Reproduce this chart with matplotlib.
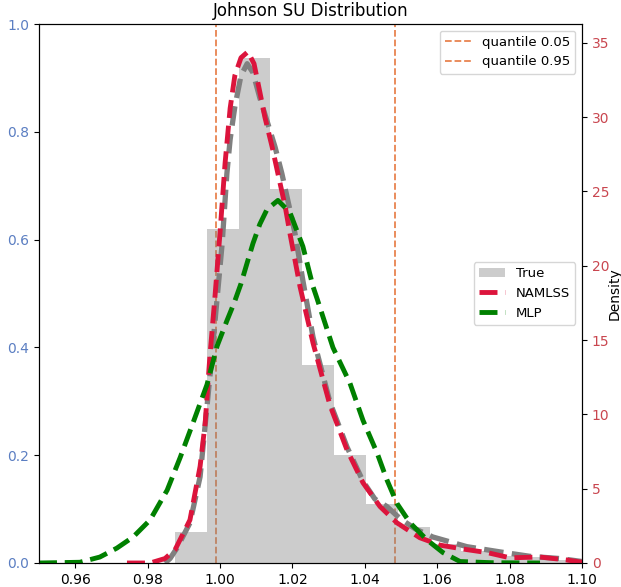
import matplotlib
matplotlib.use("Agg")
import matplotlib.pyplot as plt
import numpy as np

# Histogram of true samples (density)
bin_edges = [0.98757, 0.99636, 1.00515, 1.01394, 1.02273, 1.03152, 1.04031,
             1.04910, 1.05789, 1.06668, 1.07547, 1.08426, 1.09305, 1.10184]
bin_heights = [2.1, 22.5, 34.0, 25.2, 13.3, 7.27, 4.0, 2.4, 1.3, 0.8, 0.5, 0.4, 0.2]

# True density (gray dashed)
true_x = [0.9848, 0.9862, 0.9881, 0.9917, 0.9945, 0.9972, 0.9992, 1.0006, 1.0019,
          1.0028, 1.0041, 1.0058, 1.0075, 1.0091, 1.0110, 1.0133, 1.0152, 1.0171,
          1.0191, 1.0207, 1.0229, 1.0257, 1.0304, 1.0351, 1.0395, 1.0428, 1.0461,
          1.0497, 1.0539, 1.0588, 1.0682, 1.0773, 1.0856, 1.0939, 1.1000]
true_y = [0.0, 0.3, 1.0, 2.7, 5.8, 12.5, 17.8, 21.5, 26.2,
          28.5, 30.7, 32.8, 33.6, 33.0, 31.3, 29.5, 28.0, 26.2,
          24.0, 22.2, 19.0, 15.2, 10.8, 7.8, 5.5, 4.3, 3.8,
          3.0, 2.3, 1.75, 1.1, 0.75, 0.45, 0.3, 0.1]

# NAMLSS prediction (crimson dashed)
nam_x = [0.9743, 0.9807, 0.9848, 0.9876, 0.9917, 0.9945, 0.9959, 0.9972, 0.9986,
         1.0000, 1.0014, 1.0028, 1.0041, 1.0058, 1.0077, 1.0094, 1.0110, 1.0124,
         1.0144, 1.0160, 1.0180, 1.0193, 1.0221, 1.0257, 1.0304, 1.0351, 1.0395,
         1.0442, 1.0489, 1.0552, 1.0608, 1.0682, 1.0738, 1.0801, 1.0884, 1.0959, 1.1000]
nam_y = [0.0, 0.0, 0.3, 0.9, 2.9, 6.5, 9.4, 13.9, 17.9,
         22.2, 26.9, 30.6, 32.8, 34.0, 34.4, 33.6, 31.7, 30.0,
         28.0, 26.2, 24.0, 22.2, 18.6, 14.8, 10.6, 7.6, 5.4,
         3.8, 2.7, 1.7, 1.2, 0.9, 0.7, 0.35, 0.4, 0.2, 0.05]

# MLP prediction (green dashed)
mlp_x = [0.9500, 0.9613, 0.9668, 0.9715, 0.9760, 0.9807, 0.9854, 0.9890, 0.9925,
         0.9964, 0.9992, 1.0019, 1.0039, 1.0058, 1.0075, 1.0091, 1.0110, 1.0130,
         1.0160, 1.0193, 1.0229, 1.0257, 1.0268, 1.0312, 1.0359, 1.0395, 1.0434,
         1.0461, 1.0489, 1.0525, 1.0572, 1.0616, 1.0663, 1.0750, 1.0884]
mlp_y = [0.0, 0.05, 0.4, 1.0, 1.75, 2.9, 4.9, 7.1, 9.4,
         12.0, 14.6, 16.3, 17.5, 18.8, 20.2, 21.5, 22.8, 23.8,
         24.4, 23.6, 21.3, 18.6, 17.8, 14.5, 12.1, 9.6, 7.4,
         5.6, 4.0, 2.7, 1.55, 0.7, 0.1, 0.02, 0.0]

quantiles = [0.99889, 1.04830]
quantile_labels = ["quantile 0.05", "quantile 0.95"]

fig = plt.figure(figsize=(6.21, 5.87), dpi=100)
ax1 = fig.add_axes([39/621, 1 - 563/587, (582 - 39)/621, (563 - 24)/587])
ax2 = ax1.twinx()

for q, lab in zip(quantiles, quantile_labels):
    ax1.axvline(q, color="#e8834f", linestyle="--", linewidth=1.3, label=lab)
ax1.set_ylim(0, 1)
ax1.set_xlim(0.95, 1.10)
ax1.set_xticks(np.arange(0.96, 1.1001, 0.02))
ax1.set_yticks(np.arange(0, 1.01, 0.2))
ax1.tick_params(axis="y", labelcolor="#5b7ec2")
ax1.legend(loc="upper right", fontsize=9.5)
ax1.set_title("Johnson SU Distribution", fontsize=12)

widths = np.diff(bin_edges)
h_true = ax2.bar(bin_edges[:-1], bin_heights, width=widths, align="edge",
                 color="gray", alpha=0.4, label="True", linewidth=0)
ax2.plot(true_x, true_y, color="gray", linestyle="--", linewidth=3.8)
h_nam, = ax2.plot(nam_x, nam_y, color="crimson", linestyle="--", linewidth=3.5, label="NAMLSS")
h_mlp, = ax2.plot(mlp_x, mlp_y, color="green", linestyle="--", linewidth=3.5, label="MLP")
ax2.set_ylim(0, 36.27)
ax2.set_xlim(0.95, 1.10)
ax2.set_ylabel("Density", labelpad=-1)
ax2.tick_params(axis="y", labelcolor="#c9464f")
ax2.legend(handles=[h_true, h_nam, h_mlp], loc="center right", fontsize=9.5)

fig.savefig("out.png", dpi=100)
